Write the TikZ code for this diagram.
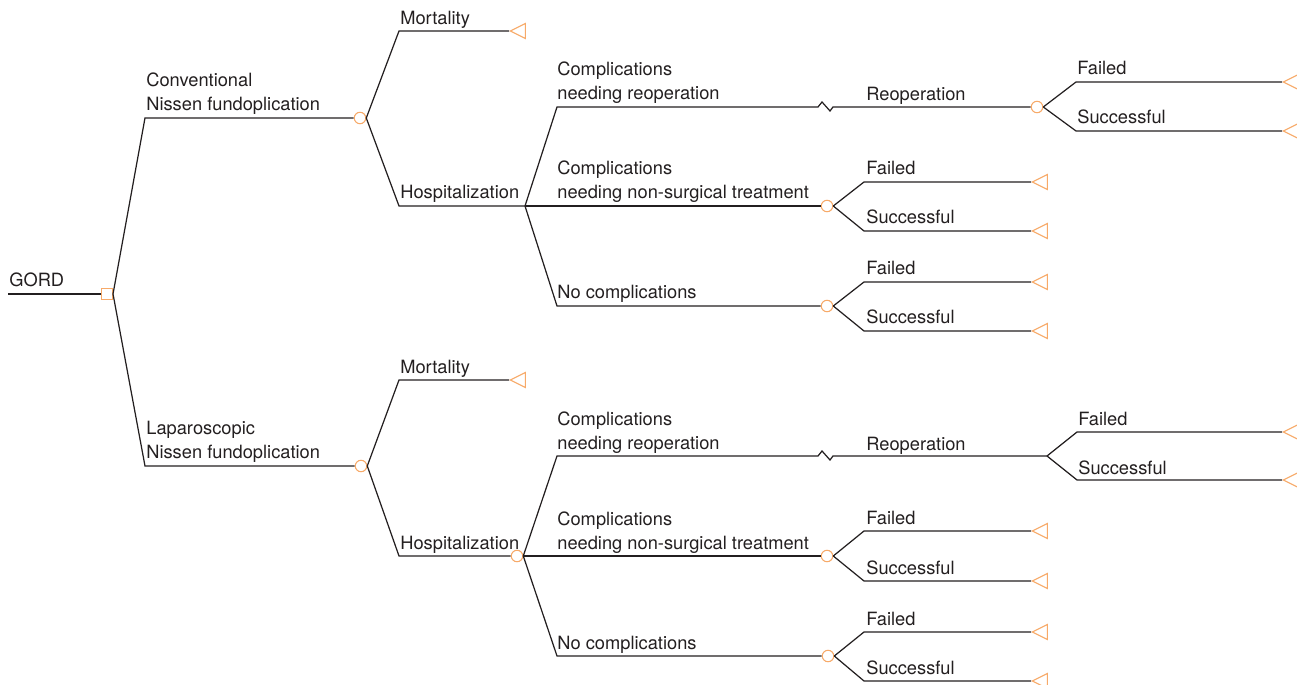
\documentclass[tikz,border=0pt]{standalone}
\usepackage{fontspec}
\setmainfont{TeX Gyre Heros}
\usetikzlibrary{shapes.geometric,calc}
\definecolor{treeline}{RGB}{35,31,32}
\definecolor{nodeorange}{RGB}{247,170,105}

\begin{document}
\begin{tikzpicture}[
    x=0.02cm, y=-0.02cm,
    decision/.style={rectangle, draw=nodeorange, fill=white, line width=0.6pt,
                minimum size=0.22cm, inner sep=0pt},
    chance/.style={circle, draw=nodeorange, fill=white, line width=0.6pt,
                minimum size=0.23cm, inner sep=0pt},
    endnode/.style={isosceles triangle, shape border rotate=180, isosceles triangle stretches,
                draw=nodeorange, line width=0.6pt, minimum width=0.3cm, minimum height=0.3cm,
                inner sep=0pt, anchor=apex},
    lbl/.style={anchor=base west, inner sep=0pt, align=left, text=treeline,
                font=\fontsize{10.4}{13.66}\selectfont},
    branch/.style={draw=treeline, line width=0.7pt}
]
    \useasboundingbox (0,0) rectangle (1297,685);

    % Root decision
    \coordinate (gord0) at (8,294);
    \node[decision] (gord) at (107,294) {};
    \node[lbl] (gordlbl) at (9,287) {GORD};
    \draw[branch] (gord0) -- (gord.west);

    % Conventional arm
    \coordinate (conv0) at (145,118);
    \node[chance] (conv) at (360,118) {};
    \node[lbl] (convlbl) at (146,111) {Conventional\\Nissen fundoplication};
    \draw[branch] (gord.east) -- (conv0) -- (conv.west);

    \coordinate (cmort0) at (399,31);
    \node[endnode] (cmort) at (509,31) {};
    \node[lbl] (cmortlbl) at (400,25) {Mortality};
    \draw[branch] (conv.east) -- (cmort0) -- (cmort.apex);

    \coordinate (chosp0) at (399,206);
    \coordinate (chosp) at (525,206);
    \node[lbl] (chosplbl) at (400,199) {Hospitalization};
    \draw[branch] (conv.east) -- (chosp0) -- (chosp);

    % Conventional - reoperation
    \coordinate (creop0) at (557,107);
    \node[chance] (creop) at (1037,107) {};
    \node[lbl] (creoplbl) at (557,100) {Complications\\needing reoperation};
    \node[lbl] (creoptxt) at (866,101) {Reoperation};
    \draw[branch] (chosp) -- (creop0) -- ++(261,0) -- ++(4,-5) -- ++(8,9) -- ++(3,-4) -- (creop.west);

    \coordinate (creopF0) at (1076,82);
    \node[endnode] (creopF) at (1282,82) {};
    \node[lbl] (creopFlbl) at (1077,75) {Failed};
    \draw[branch] (creop.east) -- (creopF0) -- (creopF.apex);
    \coordinate (creopS0) at (1076,131);
    \node[endnode] (creopS) at (1282,131) {};
    \node[lbl] (creopSlbl) at (1077,124) {Successful};
    \draw[branch] (creop.east) -- (creopS0) -- (creopS.apex);

    % Conventional - non-surgical treatment
    \node[chance] (cns) at (827,206) {};
    \node[lbl] (cnslbl) at (557,199) {Complications\\needing non-surgical treatment};
    \draw[branch] (chosp) -- (cns.west);

    \coordinate (cnsF0) at (864,182);
    \node[endnode] (cnsF) at (1031,182) {};
    \node[lbl] (cnsFlbl) at (866,175) {Failed};
    \draw[branch] (cns.east) -- (cnsF0) -- (cnsF.apex);
    \coordinate (cnsS0) at (864,231);
    \node[endnode] (cnsS) at (1031,231) {};
    \node[lbl] (cnsSlbl) at (866,224) {Successful};
    \draw[branch] (cns.east) -- (cnsS0) -- (cnsS.apex);

    % Conventional - no complications
    \coordinate (cnc0) at (557,306);
    \node[chance] (cnc) at (827,306) {};
    \node[lbl] (cnclbl) at (557,299) {No complications};
    \draw[branch] (chosp) -- (cnc0) -- (cnc.west);

    \coordinate (cncF0) at (864,282);
    \node[endnode] (cncF) at (1031,282) {};
    \node[lbl] (cncFlbl) at (866,275) {Failed};
    \draw[branch] (cnc.east) -- (cncF0) -- (cncF.apex);
    \coordinate (cncS0) at (864,331);
    \node[endnode] (cncS) at (1031,331) {};
    \node[lbl] (cncSlbl) at (866,324) {Successful};
    \draw[branch] (cnc.east) -- (cncS0) -- (cncS.apex);

    % Laparoscopic arm
    \coordinate (lap0) at (145,466);
    \node[chance] (lap) at (361,466) {};
    \node[lbl] (laplbl) at (146,459) {Laparoscopic\\Nissen fundoplication};
    \draw[branch] (gord.east) -- (lap0) -- (lap.west);

    \coordinate (lmort0) at (399,380);
    \node[endnode] (lmort) at (509,380) {};
    \node[lbl] (lmortlbl) at (400,374) {Mortality};
    \draw[branch] (lap.east) -- (lmort0) -- (lmort.apex);

    \coordinate (lhosp0) at (399,556);
    \node[chance] (lhosp) at (517,556) {};
    \node[lbl] (lhosplbl) at (400,549) {Hospitalization};
    \draw[branch] (lap.east) -- (lhosp0) -- (lhosp.west);

    % Laparoscopic - reoperation
    \coordinate (lreop0) at (557,456);
    \coordinate (lreop) at (1047,456);
    \node[lbl] (lreoplbl) at (557,449) {Complications\\needing reoperation};
    \node[lbl] (lreoptxt) at (866,450) {Reoperation};
    \draw[branch] (lhosp.east) -- (lreop0) -- ++(261,0) -- ++(4,-5) -- ++(8,9) -- ++(3,-4) -- (lreop);

    \coordinate (lreopF0) at (1077,432);
    \node[endnode] (lreopF) at (1282,432) {};
    \node[lbl] (lreopFlbl) at (1078,425) {Failed};
    \draw[branch] (lreop) -- (lreopF0) -- (lreopF.apex);
    \coordinate (lreopS0) at (1077,480);
    \node[endnode] (lreopS) at (1282,480) {};
    \node[lbl] (lreopSlbl) at (1078,474) {Successful};
    \draw[branch] (lreop) -- (lreopS0) -- (lreopS.apex);

    % Laparoscopic - non-surgical treatment
    \node[chance] (lns) at (827,556) {};
    \node[lbl] (lnslbl) at (557,549) {Complications\\needing non-surgical treatment};
    \draw[branch] (lhosp.east) -- (lns.west);

    \coordinate (lnsF0) at (864,531);
    \node[endnode] (lnsF) at (1031,531) {};
    \node[lbl] (lnsFlbl) at (866,524) {Failed};
    \draw[branch] (lns.east) -- (lnsF0) -- (lnsF.apex);
    \coordinate (lnsS0) at (864,581);
    \node[endnode] (lnsS) at (1031,581) {};
    \node[lbl] (lnsSlbl) at (866,574) {Successful};
    \draw[branch] (lns.east) -- (lnsS0) -- (lnsS.apex);

    % Laparoscopic - no complications
    \coordinate (lnc0) at (557,656);
    \node[chance] (lnc) at (828,656) {};
    \node[lbl] (lnclbl) at (557,649) {No complications};
    \draw[branch] (lhosp.east) -- (lnc0) -- (lnc.west);

    \coordinate (lncF0) at (864,632);
    \node[endnode] (lncF) at (1031,632) {};
    \node[lbl] (lncFlbl) at (866,625) {Failed};
    \draw[branch] (lnc.east) -- (lncF0) -- (lncF.apex);
    \coordinate (lncS0) at (864,681);
    \node[endnode] (lncS) at (1031,681) {};
    \node[lbl] (lncSlbl) at (866,674) {Successful};
    \draw[branch] (lnc.east) -- (lncS0) -- (lncS.apex);

\end{tikzpicture}
\end{document}
